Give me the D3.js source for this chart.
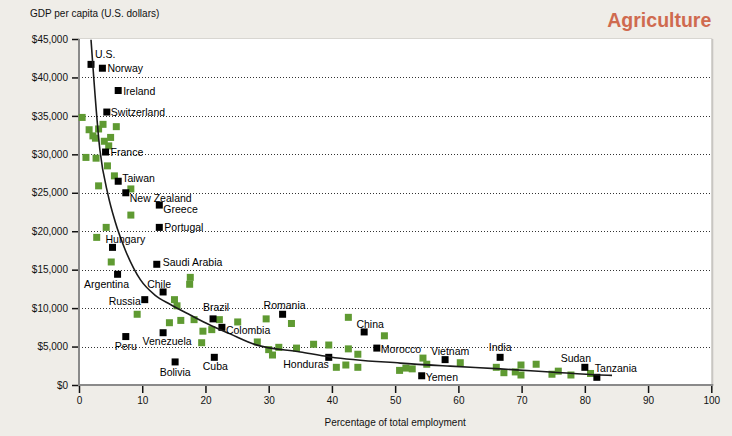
<!DOCTYPE html>
<html>
<head>
<meta charset="utf-8">
<script src="https://cdn.jsdelivr.net/npm/d3@7"></script>
<style>
  html, body { margin: 0; padding: 0; background: #efede8; }
  svg { display: block; font-family: "Liberation Sans", Arial, sans-serif; }
  .tick text { font-size: 10px; fill: #111; }
</style>
</head>
<body>
<svg id="chart" width="732" height="436"></svg>
<script>
// labelled countries: [name, % employed in agriculture, GDP per capita]
const countries = [
  ['U.S.', 1.9, 41700], ['Norway', 3.7, 41200], ['Ireland', 6.2, 38300],
  ['Switzerland', 4.4, 35500], ['France', 4.2, 30300], ['Taiwan', 6.2, 26500],
  ['New Zealand', 7.4, 25000], ['Greece', 12.7, 23400], ['Portugal', 12.7, 20500],
  ['Hungary', 5.3, 17900], ['Saudi Arabia', 12.3, 15700], ['Argentina', 6.1, 14400],
  ['Chile', 13.3, 12100], ['Russia', 10.4, 11100], ['Brazil', 21.2, 8600],
  ['Colombia', 22.6, 7500], ['Romania', 32.2, 9200], ['Peru', 7.4, 6300],
  ['Venezuela', 13.3, 6800], ['Bolivia', 15.2, 3000], ['Cuba', 21.4, 3600],
  ['Honduras', 39.5, 3600], ['China', 45.1, 6900], ['Morocco', 47.1, 4800],
  ['Vietnam', 57.9, 3300], ['Yemen', 54.2, 1200], ['India', 66.6, 3600],
  ['Sudan', 80.0, 2300], ['Tanzania', 81.9, 1000]
];

// unlabelled countries: [%, GDP]
const others = [
  [0.5, 34800], [1.6, 33200], [2.2, 32400], [2.6, 32100], [3.1, 33300], [3.8, 33900],
  [5.9, 33600], [5.0, 32200], [4.0, 31700], [4.7, 31100], [1.1, 29600], [2.7, 29500],
  [4.5, 28500], [5.6, 27200], [3.1, 25900], [8.2, 25500], [8.2, 22100], [4.3, 20500],
  [2.8, 19200], [5.1, 16000], [17.6, 14000], [17.5, 13100], [15.1, 11100], [15.5, 10300],
  [9.2, 9200], [14.3, 8100], [16.1, 8400], [18.2, 8500], [19.6, 7000], [21.0, 7200],
  [22.2, 8500], [25.1, 8200], [19.4, 5500], [29.6, 8600], [33.6, 8000], [28.2, 5600],
  [30.0, 4600], [30.6, 3900], [31.6, 4900], [34.4, 4800], [37.1, 5300], [39.5, 5200],
  [42.6, 8800], [42.6, 4700], [44.1, 4000], [40.7, 2300], [42.2, 2600], [44.1, 2300],
  [48.3, 6400], [50.7, 1900], [51.7, 2200], [52.7, 2100], [54.4, 3500], [55.0, 2700],
  [60.3, 2900], [66.0, 2300], [67.2, 1600], [69.0, 1700], [69.9, 2600], [69.9, 1300],
  [72.3, 2700], [74.8, 1400], [75.8, 1800], [77.8, 1300], [80.9, 1500]
];

// trend curve
const trend = [
  [1.9, 44900], [3.3, 30600], [4.6, 24700], [5.7, 21300], [7.3, 17600], [9.7, 13700],
  [12.0, 11700], [14.4, 10500], [17.6, 9100], [20.7, 7800], [23.9, 6650], [27.9, 5250],
  [35.0, 4300], [39.7, 3650], [50.8, 2850], [58.7, 2450], [66.6, 2100], [74.5, 1700],
  [82.4, 1300], [84.3, 1250]
];

const xTicks = d3.range(0, 101, 10);
const yTicks = d3.range(0, 45001, 5000);

// label placement: [anchor, dx, dy]
const labelPos = {
  'U.S.': ['start', 4, -6], 'Norway': ['start', 5, 4], 'Ireland': ['start', 5, 4],
  'Switzerland': ['start', 4, 4], 'France': ['start', 5, 4], 'Taiwan': ['start', 4, 1],
  'New Zealand': ['start', 4, 9], 'Greece': ['start', 4, 8], 'Portugal': ['start', 5, 4],
  'Hungary': ['start', -7, -4], 'Saudi Arabia': ['start', 6, 2], 'Argentina': ['middle', -11, 14],
  'Chile': ['middle', -4, -4], 'Russia': ['end', -4, 5], 'Brazil': ['middle', 3, -8],
  'Colombia': ['start', 4, 7], 'Romania': ['middle', 2, -5], 'Peru': ['middle', 0, 13],
  'Venezuela': ['middle', 4, 12], 'Bolivia': ['middle', 0, 14], 'Cuba': ['middle', 1, 13],
  'Honduras': ['end', 0, 11], 'China': ['middle', 6, -4], 'Morocco': ['start', 4, 5],
  'Vietnam': ['middle', 5, -5], 'Yemen': ['start', 4, 5], 'India': ['middle', 0, -6],
  'Sudan': ['middle', -9, -5], 'Tanzania': ['start', -2, -5]
};

const svg = d3.select('#chart');
const x = d3.scaleLinear().domain([0, 100]).range([79, 711.3]);
const y = d3.scaleLinear().domain([0, 45000]).range([385, 39]);

// plot panel
svg.append('rect')
  .attr('x', x(0)).attr('y', y(45000))
  .attr('width', x(100) - x(0)).attr('height', y(0) - y(45000))
  .attr('fill', '#fff');
svg.append('line')
  .attr('x1', x(0)).attr('x2', x(100) + 1).attr('y1', y(45000) - 0.5).attr('y2', y(45000) - 0.5)
  .attr('stroke', '#d8d6d1').attr('stroke-width', 1);
svg.append('line')
  .attr('x1', x(100) + 1).attr('x2', x(100) + 1).attr('y1', y(45000)).attr('y2', y(0))
  .attr('stroke', '#c8c6c2').attr('stroke-width', 2);

// gridlines
svg.append('g')
  .selectAll('line')
  .data(yTicks.filter((d) => d > 0 && d < 45000))
  .join('line')
  .attr('x1', x(0)).attr('x2', x(100))
  .attr('y1', (d) => Math.round(y(d)) + 0.5).attr('y2', (d) => Math.round(y(d)) + 0.5)
  .attr('stroke', '#333').attr('stroke-width', 1).attr('stroke-dasharray', '1,2');

// axes
const yAxis = svg.append('g')
  .attr('transform', `translate(${x(0)},0)`)
  .call(d3.axisLeft(y).tickValues(yTicks).tickSize(7).tickPadding(4)
    .tickFormat((d) => '$' + d3.format(',')(d)));
yAxis.select('.domain').remove();
yAxis.selectAll('.tick line').attr('stroke', '#111').attr('stroke-width', 1.5);

const xAxis = svg.append('g')
  .attr('transform', `translate(0,${y(0)})`)
  .call(d3.axisBottom(x).tickValues(xTicks).tickSize(8).tickPadding(4));
xAxis.select('.domain').remove();
xAxis.selectAll('.tick line').attr('stroke', '#111').attr('stroke-width', 1.5);

svg.append('line')
  .attr('x1', x(0)).attr('x2', x(0)).attr('y1', y(45000)).attr('y2', y(0))
  .attr('stroke', '#8a8a8a').attr('stroke-width', 2);
svg.append('line')
  .attr('x1', x(0) - 1).attr('x2', x(100) + 2).attr('y1', y(0)).attr('y2', y(0))
  .attr('stroke', '#8a8a8a').attr('stroke-width', 2);

// squares
const size = 7;
svg.append('g')
  .selectAll('rect')
  .data(others)
  .join('rect')
  .attr('x', (d) => x(d[0]) - size / 2).attr('y', (d) => y(d[1]) - size / 2)
  .attr('width', size).attr('height', size)
  .attr('fill', '#5f9a32');

svg.append('g')
  .selectAll('rect')
  .data(countries)
  .join('rect')
  .attr('x', (d) => x(d[1]) - size / 2).attr('y', (d) => y(d[2]) - size / 2)
  .attr('width', size).attr('height', size)
  .attr('fill', '#000');

// trend line
svg.append('path')
  .datum(trend)
  .attr('d', d3.line().x((d) => x(d[0])).y((d) => y(d[1])).curve(d3.curveMonotoneX))
  .attr('fill', 'none').attr('stroke', '#1a1a1a').attr('stroke-width', 1.6);

// country labels
svg.append('g')
  .selectAll('text')
  .data(countries)
  .join('text')
  .attr('x', (d) => x(d[1]) + labelPos[d[0]][1])
  .attr('y', (d) => y(d[2]) + labelPos[d[0]][2])
  .attr('text-anchor', (d) => labelPos[d[0]][0])
  .attr('font-size', 10.5)
  .attr('fill', '#000')
  .text((d) => d[0]);

// titles
svg.append('text')
  .attr('x', 30).attr('y', 17)
  .attr('font-size', 10).attr('fill', '#111')
  .text('GDP per capita (U.S. dollars)');

svg.append('text')
  .attr('x', (x(0) + x(100)) / 2).attr('y', 426)
  .attr('text-anchor', 'middle')
  .attr('font-size', 10).attr('fill', '#111')
  .text('Percentage of total employment');

svg.append('text')
  .attr('x', x(100)).attr('y', 27)
  .attr('text-anchor', 'end')
  .attr('font-size', 19.5).attr('font-weight', 'bold').attr('fill', '#cf6a4f')
  .text('Agriculture');
</script>
</body>
</html>
